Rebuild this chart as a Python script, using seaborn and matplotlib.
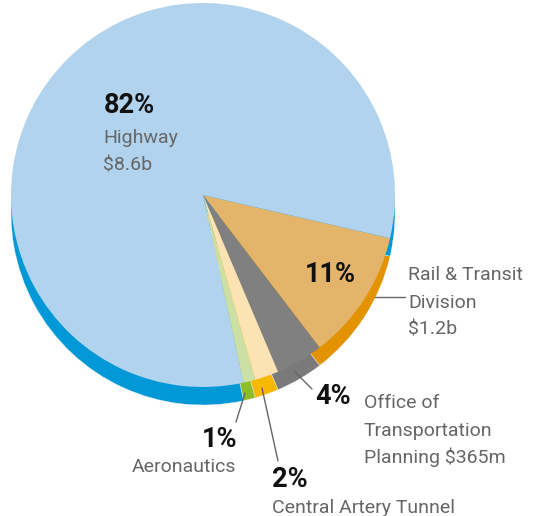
import seaborn as sns
import matplotlib.pyplot as plt

# budget split (share of total, %)
divisions = ["Rail & Transit Division", "Office of Transportation Planning",
             "Central Artery Tunnel", "Aeronautics", "Highway"]
shares = [11, 4, 2, 1, 82]
top_colors = ["#E5B46B", "#808080", "#FDE3B3", "#CCE0A5", "#B2D3EE"]
side_colors = ["#E39300", "#7A7A7A", "#F7B800", "#8CBD2B", "#0098D6"]

pct_labels = ["11%", "4%", "2%", "1%", "82%"]
name_lines = [
    ["Rail & Transit", "Division", "$1.2b"],
    ["Office of", "Transportation", "Planning $365m"],
    ["Central Artery Tunnel"],
    ["Aeronautics"],
    ["Highway", "$8.6b"],
]

sns.set_style("white")
plt.rcParams["font.family"] = ["Roboto", "DejaVu Sans"]

W, H = 535, 516
fig = plt.figure(figsize=(W / 100, H / 100), dpi=100)
ax = fig.add_axes([0, 0, 1, 1])

cx, cy, r, depth = 203, -195, 192, 18

# side (extruded) layer, then the top face
ax.pie(shares, colors=side_colors, startangle=-13, counterclock=False,
       radius=r, center=(cx, cy - depth),
       wedgeprops=dict(linewidth=0.3, edgecolor="#eeeeee"), frame=True)
ax.pie(shares, colors=top_colors, startangle=-13, counterclock=False,
       radius=r, center=(cx, cy),
       wedgeprops=dict(linewidth=0), frame=True)
ax.set_xlim(0, W)
ax.set_ylim(-H, 0)
ax.set_aspect("equal")
ax.axis("off")

bold = dict(fontsize=19.5, fontweight="bold", color="#111111", va="baseline")
reg = dict(fontsize=14, color="#666666", va="baseline")
line_gap = 27.5

# label anchor positions (pixels, top-left origin)
pct_pos = [(305, 282), (315, 404), (272, 487), (202, 447), (104, 113)]
name_pos = [(408, 280), (364, 408), (272, 513), (132, 472), (103, 143)]

for (px, py), t in zip(pct_pos, pct_labels):
    ax.text(px, -py, t, **bold)
for (nx, ny), lines in zip(name_pos, name_lines):
    for i, ln in enumerate(lines):
        ax.text(nx, -(ny + i * line_gap), ln.replace("$", r"\$"), **reg)

# leader lines
leaders = [((375, 297), (405, 297)), ((295, 372), (312, 389)),
           ((262, 388), (278, 461)), ((245, 393), (236, 422))]
for (x0, y0), (x1, y1) in leaders:
    ax.plot([x0, x1], [-y0, -y1], color="#666666", lw=1)

fig.savefig("out.png", dpi=100)
